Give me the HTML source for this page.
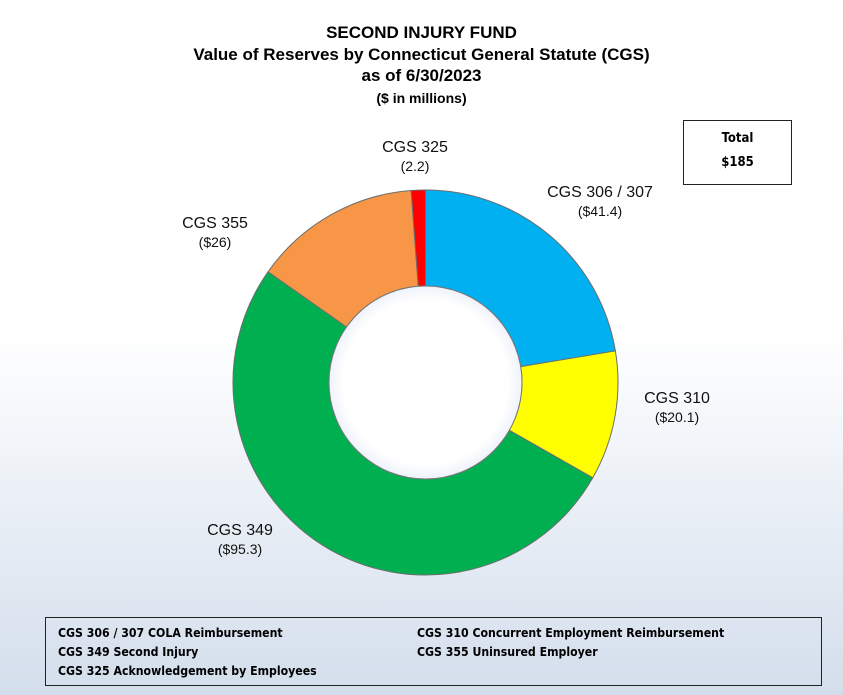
<!DOCTYPE html>
<html><head><meta charset="utf-8"><style>
html,body{margin:0;padding:0}
body{width:843px;height:695px;overflow:hidden;background:linear-gradient(to bottom,#ffffff 0px,#ffffff 330px,#d3deec 695px);font-family:"Liberation Sans",sans-serif;position:relative}
.t{position:absolute;left:0;width:843px;text-align:center;font-weight:bold;color:#000}
.lbl{position:absolute;text-align:center;font-size:16px;color:#111;line-height:19px}
.lbl span{font-size:14px}
.box{position:absolute;border:1px solid #222;font-family:"DejaVu Sans Condensed","Liberation Sans Narrow","Liberation Sans",sans-serif;font-weight:bold;font-size:12.2px}
</style></head><body>
<div class="t" style="top:22px;font-size:17px;line-height:21.5px">SECOND INJURY FUND<br>Value of Reserves by Connecticut General Statute (CGS)<br>as of 6/30/2023</div>
<div class="t" style="top:90px;font-size:14px">($ in millions)</div>
<div class="box" style="left:683px;top:120px;width:109px;height:65px;text-align:center;line-height:24px;padding-top:6px;box-sizing:border-box;background:#fff;font-size:13px">Total<br>$185</div>
<svg width="843" height="695" style="position:absolute;left:0;top:0">
<defs><radialGradient id="g" cx="0.5" cy="0.5" r="0.5"><stop offset="0.85" stop-color="#fff"/><stop offset="1" stop-color="#eef2fa"/></radialGradient></defs>
<g id="d"></g>
<circle cx="425.5" cy="382.5" r="96.5" fill="url(#g)" stroke="#777" stroke-width="1"/>
</svg>
<div class="lbl" style="left:360px;top:138px;width:110px">CGS 325<br><span>(2.2)</span></div>
<div class="lbl" style="left:530px;top:183px;width:140px">CGS 306 / 307<br><span>($41.4)</span></div>
<div class="lbl" style="left:160px;top:214px;width:110px">CGS 355<br><span>($26)</span></div>
<div class="lbl" style="left:622px;top:389px;width:110px">CGS 310<br><span>($20.1)</span></div>
<div class="lbl" style="left:185px;top:521px;width:110px">CGS 349<br><span>($95.3)</span></div>
<div class="box" style="left:45px;top:617px;width:777px;height:69px;box-sizing:border-box">
<div style="position:absolute;left:12px;top:6px;line-height:19px">CGS 306 / 307 COLA Reimbursement<br>CGS 349 Second Injury<br>CGS 325 Acknowledgement by Employees</div>
<div style="position:absolute;left:371px;top:6px;line-height:19px">CGS 310 Concurrent Employment Reimbursement<br>CGS 355 Uninsured Employer</div>
</div>
<script>
var vals=[[41.4,"#00b0f0"],[20.1,"#ffff00"],[95.3,"#00b050"],[26,"#f79646"],[2.2,"#ff0000"]];
var cx=425.5,cy=382.5,R=192.5,r=96.5,a=0,tot=185,h="";
function p(rad,an){return [cx+rad*Math.sin(an),cy-rad*Math.cos(an)];}
vals.forEach(function(v){var a2=a+v[0]/tot*2*Math.PI,l=(a2-a)>Math.PI?1:0;
var A=p(R,a),B=p(R,a2),C=p(r,a2),D=p(r,a);
h+='<path d="M'+A+' A'+R+' '+R+' 0 '+l+' 1 '+B+' L'+C+' A'+r+' '+r+' 0 '+l+' 0 '+D+' Z" fill="'+v[1]+'" stroke="#6d6d6d" stroke-width="1"/>';a=a2;});
document.getElementById("d").innerHTML=h;
</script>
</body></html>
